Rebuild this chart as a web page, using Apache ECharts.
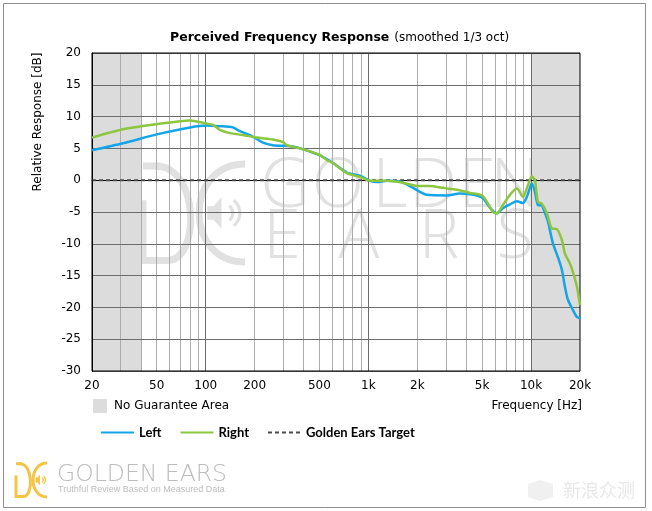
<!DOCTYPE html>
<html><head><meta charset="utf-8">
<script src="https://cdn.jsdelivr.net/npm/echarts@6/dist/echarts.min.js"></script>
<style>html,body{margin:0;padding:0;background:#fff}#c{width:652px;height:511px}</style>
</head><body><div id="c"></div>
<script>
// ---- data ----
const leftFreq = [20, 31, 50, 80, 101, 122, 147, 162, 187, 206, 225, 259, 299, 344, 380, 450, 504, 606, 738, 888, 1022, 1129, 1300, 1563, 1880, 2291, 3041, 3654, 4210, 4648, 5061, 5584, 6166, 6714, 7414, 8187, 8914, 9434, 10120, 10566, 11020, 11660, 12000, 12700, 13620, 14630, 15480, 16140, 16860, 18080, 19140, 20000];
const leftDb   = [4.7, 5.8, 7.2, 8.3, 8.6, 8.5, 8.3, 7.7, 7.1, 6.5, 5.9, 5.5, 5.4, 5.3, 5.0, 4.4, 3.9, 2.7, 1.2, 0.7, -0.1, -0.3, -0.1, -0.2, -1.2, -2.3, -2.4, -2.1, -2.2, -2.4, -2.8, -4.3, -5.2, -4.4, -3.8, -3.3, -3.6, -2.6, -0.5, -1.8, -3.9, -4.0, -4.7, -6.5, -9.9, -12.1, -14.1, -16.7, -18.8, -20.4, -21.5, -21.7];
const rightFreq = [20, 31, 50, 80, 101, 111, 122, 141, 169, 206, 259, 299, 315, 380, 500, 560, 606, 738, 888, 1022, 1300, 1632, 1989, 2390, 2874, 3502, 4210, 5061, 5830, 6166, 6714, 7414, 8187, 8914, 9572, 10120, 10566, 11020, 11660, 12520, 13430, 14420, 15480, 16140, 17340, 18080, 19140, 20000];
const rightDb   = [6.7, 8.0, 8.8, 9.4, 8.9, 8.7, 7.9, 7.4, 7.1, 6.7, 6.4, 6.0, 5.5, 5.0, 4.0, 3.1, 2.7, 1.1, 0.5, -0.1, -0.1, -0.4, -0.9, -0.9, -1.2, -1.5, -2.0, -2.5, -5.0, -5.2, -3.9, -2.3, -1.3, -2.6, -0.8, 0.6, 0.0, -3.4, -3.7, -5.2, -7.6, -7.7, -9.4, -11.5, -13.1, -14.4, -16.7, -19.6];
const targetFreq = [20, 20000];
const targetDb   = [0, 0];
const noGuaranteeStart = [20, 10000];
const noGuaranteeEnd   = [40, 20000];
const xTickValues = [20, 50, 100, 200, 500, 1000, 2000, 5000, 10000, 20000];
const xTickLabels = ['20', '50', '100', '200', '500', '1k', '2k', '5k', '10k', '20k'];
const xGridMinor = [30, 40, 50, 60, 70, 80, 90, 200, 300, 400, 500, 600, 700, 800, 900, 2000, 3000, 4000, 5000, 6000, 7000, 8000, 9000];
const xGridMajor = [100, 1000, 10000];
const yTicks = { min: -30, max: 20, interval: 5 };
const seriesNames = ['Left', 'Right', 'Golden Ears Target'];

// ---- styling ----
const BLUE = '#14a5e8', GREEN = '#8cc63f', DASH = '#4a4a4a';
const FONT = 'DejaVu Sans';

const pairs = (xs, ys) => xs.map((x, i) => [x, ys[i]]);

// vertical grid lines + tick labels through the log axis (markLine)
const markLineData = [];
xGridMinor.forEach(f => markLineData.push({ xAxis: f, lineStyle: { color: '#acacac', width: 1, type: 'solid' }, label: { show: false } }));
xGridMajor.forEach(f => markLineData.push({ xAxis: f, lineStyle: { color: '#6b6b6b', width: 1, type: 'solid' }, label: { show: false } }));
xTickValues.forEach((f, i) => markLineData.push({
  xAxis: f, lineStyle: { color: 'rgba(255,255,255,0)', width: 1, type: 'solid' },
  label: { show: true, position: 'start', distance: 9, formatter: xTickLabels[i], color: '#000', opacity: 1, fontSize: 12, fontFamily: FONT }
}));

function logo(x0, y0, w, h, color, lw, z) {
  const P = (u, v) => [x0 + u * w, y0 + v * h];
  const st = { stroke: color, lineWidth: lw, fill: null };
  const a = P(0.12, 0.02), b = P(0.56, 0.02), c = P(0.56, 0.985), d = P(0.24, 0.985);
  const e = P(1, 0), f = P(0.4, 0), g = P(0.4, 1), hh = P(1, 1);
  const ctr = P(0.79, 0.5);
  return [
    { type: 'polyline', z, silent: true, shape: { points: [P(0.17, 0.02), P(0, 0.02)] }, style: st },
    { type: 'polyline', z, silent: true, shape: { points: [P(0, 0.37), P(0, 0.985), P(0.26, 0.985)] }, style: st },
    { type: 'bezierCurve', z, silent: true, shape: { x1: a[0], y1: a[1], cpx1: b[0], cpy1: b[1], cpx2: c[0], cpy2: c[1], x2: d[0], y2: d[1] }, style: st },
    { type: 'bezierCurve', z, silent: true, shape: { x1: e[0], y1: e[1], cpx1: f[0], cpy1: f[1], cpx2: g[0], cpy2: g[1], x2: hh[0], y2: hh[1] }, style: st },
    { type: 'polygon', z, silent: true, shape: { points: [P(0.63, 0.43), P(0.69, 0.43), P(0.77, 0.34), P(0.77, 0.66), P(0.69, 0.57), P(0.63, 0.57)] }, style: { fill: color } },
    { type: 'arc', z, silent: true, shape: { cx: ctr[0], cy: ctr[1], r: 0.09 * w, startAngle: -0.9, endAngle: 0.9 }, style: { stroke: color, lineWidth: lw * 0.45, fill: null } },
    { type: 'arc', z, silent: true, shape: { cx: ctr[0], cy: ctr[1], r: 0.16 * w, startAngle: -0.9, endAngle: 0.9 }, style: { stroke: color, lineWidth: lw * 0.45, fill: null } }
  ];
}

const wmColor = '#e1e1e1';
const wmLetters = [
  ['G', 285, 188], ['O', 338, 188], ['L', 390, 188], ['D', 433, 188], ['E', 477, 188], ['N', 515, 188],
  ['E', 282, 239], ['A', 359, 239], ['R', 439, 239], ['S', 515, 239]
];
const graphics = [
  { type: 'rect', z: 0, silent: true, shape: { x: 3.5, y: 3.5, width: 642, height: 504 }, style: { fill: null, stroke: '#8f8f8f', lineWidth: 1 } },
  ...wmLetters.map(l => ({ type: 'text', z: -5, silent: true, style: { text: l[0], x: l[1], y: l[2], textAlign: 'center', textVerticalAlign: 'middle', fill: wmColor, font: '300 68px "Open Sans"' } })),
  ...logo(143, 164, 102, 98, wmColor, 7, -5),
  { type: 'text', silent: true, rotation: Math.PI / 2, x: 38, y: 122, style: { text: 'Relative Response [dB]', textAlign: 'center', textVerticalAlign: 'middle', fill: '#000', font: '12px "DejaVu Sans"' } },
  { type: 'rect', silent: true, shape: { x: 93, y: 399, width: 14, height: 14 }, style: { fill: '#dcdcdc' } },
  { type: 'text', silent: true, style: { text: 'No Guarantee Area', x: 114, y: 406, textVerticalAlign: 'middle', fill: '#000', font: '12px "DejaVu Sans"' } },
  { type: 'text', silent: true, style: { text: 'Frequency [Hz]', x: 582, y: 406, textAlign: 'right', textVerticalAlign: 'middle', fill: '#000', font: '12px "DejaVu Sans"' } },
  ...logo(16, 463, 31, 34, '#f5c443', 3, 1),
  { type: 'text', silent: true, style: { text: 'GOLDEN EARS', x: 57, y: 475, textVerticalAlign: 'middle', fill: '#bcbcbc', font: '200 23.5px "DejaVu Sans"' } },
  { type: 'text', silent: true, style: { text: 'Truthful Review Based on Measured Data', x: 58, y: 490, textVerticalAlign: 'middle', fill: '#bdbdbd', font: '9px "Liberation Sans"' } },
  { type: 'polygon', silent: true, shape: { points: [[528, 484], [540, 480], [553, 484], [553, 497], [540, 501], [528, 497]] }, style: { fill: '#f0f0f0' } },
  { type: 'text', silent: true, style: { text: '新浪众测', x: 563, y: 490, textVerticalAlign: 'middle', fill: '#e8e8e8', font: '18px "Noto Sans CJK SC"' } }
];

const option = {
  backgroundColor: '#fff',
  animation: false,
  title: {
    left: 170, top: 29, padding: 0,
    text: '{b|Perceived Frequency Response} {n|(smoothed 1/3 oct)}',
    textStyle: { rich: {
      b: { fontFamily: FONT, fontWeight: 'bold', fontSize: 12.5, color: '#000' },
      n: { fontFamily: FONT, fontWeight: 'normal', fontSize: 12, color: '#000' }
    } }
  },
  legend: {
    data: seriesNames, left: 100, top: 426, padding: 0, itemGap: 18, itemWidth: 33, itemHeight: 14,
    selectedMode: false,
    itemStyle: { opacity: 0 },
    textStyle: { fontFamily: 'Lato', fontWeight: 'bold', fontSize: 13, color: '#000' }
  },
  grid: { left: 92, top: 53, right: 72, bottom: 140, show: true, borderColor: '#000', borderWidth: 1, backgroundColor: 'transparent', z: 3 },
  xAxis: {
    type: 'log', logBase: 10, min: 20, max: 20000, z: 1.2,
    axisLine: { show: true, lineStyle: { color: '#000', width: 1 } },
    axisTick: { show: false }, axisLabel: { show: false }, splitLine: { show: false }
  },
  yAxis: {
    type: 'value', min: yTicks.min, max: yTicks.max, interval: yTicks.interval, z: 1.2,
    axisLine: { show: true, lineStyle: { color: '#000', width: 1 } },
    axisTick: { show: false },
    axisLabel: { color: '#000', fontSize: 12, fontFamily: FONT, margin: 11 },
    splitLine: { show: true, lineStyle: { color: '#6b6b6b', width: 1 } }
  },
  series: [
    { name: seriesNames[0], type: 'line', data: pairs(leftFreq, leftDb), symbol: 'none', smooth: 0.25, color: BLUE, lineStyle: { color: BLUE, width: 2.5 }, z: 3 },
    { name: seriesNames[1], type: 'line', data: pairs(rightFreq, rightDb), symbol: 'none', smooth: 0.25, color: GREEN, lineStyle: { color: GREEN, width: 2.5 }, z: 4 },
    { name: seriesNames[2], type: 'line', data: pairs(targetFreq, targetDb), symbol: 'none', color: DASH, lineStyle: { color: DASH, width: 2, type: [4, 3] }, z: 2,
      markArea: { silent: true, z: 1, itemStyle: { color: '#dcdcdc' },
        data: noGuaranteeStart.map((s, i) => [{ xAxis: s }, { xAxis: noGuaranteeEnd[i] }]) },
      markLine: { silent: true, z: 1.1, symbol: ['none', 'none'], animation: false, data: markLineData }
    }
  ],
  graphic: graphics
};
const chart = echarts.init(document.getElementById('c'));
chart.setOption(option);
</script></body></html>
